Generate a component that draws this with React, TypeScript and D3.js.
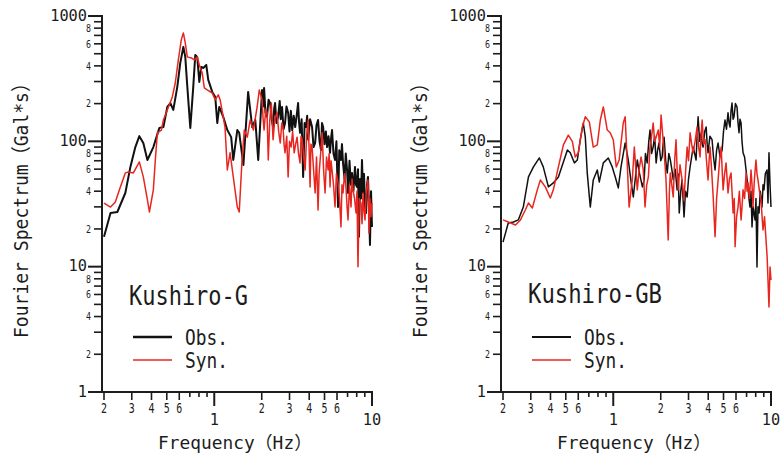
import React from 'react';
import * as d3 from 'd3';

type P = [number, number];

// Kushiro-G : observed (frequency Hz, Gal*s)
const leftObs: P[] = [
  [0.2, 17.3], [0.22, 26.8], [0.243, 27.3], [0.273, 38.7], [0.294, 62.5], [0.316, 90], [0.335, 110],
  [0.355, 97], [0.377, 71], [0.411, 90], [0.449, 128], [0.476, 130], [0.504, 188], [0.527, 202],
  [0.55, 178], [0.583, 272], [0.609, 423], [0.637, 567], [0.655, 472], [0.675, 272], [0.705, 128],
  [0.736, 272], [0.758, 489], [0.78, 472], [0.804, 298], [0.828, 392], [0.852, 385], [0.89, 407],
  [0.916, 309], [0.971, 248], [1.015, 226], [1.045, 140], [1.076, 188], [1.14, 157], [1.21, 123],
  [1.28, 108], [1.32, 71], [1.4, 123], [1.44, 117], [1.53, 64.8], [1.64, 248], [1.74, 130],
  [1.82, 148], [1.9, 71], [2.01, 257], [2.04, 190], [2.07, 267], [2.11, 170], [2.16, 157],
  [2.21, 215], [2.26, 202], [2.31, 150], [2.36, 130], [2.4, 185], [2.43, 202], [2.48, 140],
  [2.54, 157], [2.6, 210], [2.64, 150], [2.69, 188], [2.75, 125], [2.81, 140], [2.87, 190],
  [2.94, 169], [3.0, 120], [3.06, 175], [3.12, 123], [3.19, 160], [3.26, 130], [3.33, 160],
  [3.4, 202], [3.45, 140], [3.5, 117], [3.58, 150], [3.66, 52], [3.74, 140], [3.82, 130],
  [3.88, 160], [3.94, 103], [4.05, 150], [4.17, 130], [4.26, 90], [4.36, 97], [4.45, 135],
  [4.55, 148], [4.65, 100], [4.75, 85.4], [4.82, 140], [4.9, 130], [5.0, 95], [5.1, 120],
  [5.19, 90], [5.3, 110], [5.42, 81], [5.5, 105], [5.58, 123], [5.7, 80], [5.83, 71], [5.95, 100],
  [6.09, 29.9], [6.2, 85], [6.36, 71], [6.45, 95], [6.55, 67.3], [6.7, 50], [6.82, 80], [6.95, 59.1],
  [7.05, 38.7], [7.2, 70], [7.34, 45], [7.47, 56], [7.62, 40], [7.8, 62.5], [7.92, 45], [8.03, 43.3],
  [8.15, 60], [8.27, 17.3], [8.4, 50], [8.52, 35], [8.64, 71], [8.77, 38.7], [8.9, 55], [9.03, 30],
  [9.16, 26.8], [9.3, 45], [9.43, 52], [9.57, 30], [9.71, 14.9], [9.86, 40], [10, 20.7],
];

// Kushiro-G : synthetic
const leftSyn: P[] = [
  [0.2, 32.2], [0.22, 29.9], [0.236, 32.8], [0.254, 43.3], [0.273, 56], [0.286, 57], [0.307, 56],
  [0.335, 68.5], [0.355, 52], [0.377, 34.1], [0.388, 27.3], [0.411, 41], [0.423, 71], [0.436, 117],
  [0.462, 123], [0.476, 148], [0.504, 178], [0.542, 226], [0.566, 292], [0.592, 446], [0.618, 645],
  [0.637, 733], [0.655, 610], [0.675, 472], [0.715, 463], [0.747, 446], [0.78, 472], [0.804, 407],
  [0.839, 351], [0.865, 267], [0.903, 257], [0.971, 243], [1.015, 214], [1.06, 235], [1.09, 214],
  [1.14, 157], [1.17, 130], [1.21, 59.1], [1.26, 81], [1.32, 52], [1.4, 29.9], [1.44, 27.3],
  [1.5, 71], [1.55, 123], [1.62, 108], [1.69, 148], [1.77, 123], [1.87, 188], [1.93, 257],
  [2.01, 214], [2.04, 150], [2.07, 123], [2.12, 180], [2.16, 169], [2.2, 71], [2.25, 150],
  [2.3, 202], [2.36, 103], [2.42, 150], [2.5, 169], [2.56, 120], [2.62, 97], [2.68, 140],
  [2.73, 130], [2.77, 95], [2.81, 81], [2.88, 110], [2.94, 52], [3.0, 100], [3.07, 90],
  [3.14, 120], [3.21, 81], [3.28, 95], [3.35, 108], [3.42, 80], [3.5, 67.3], [3.55, 110],
  [3.61, 103], [3.69, 75], [3.77, 59.1], [3.85, 110], [3.94, 148], [4.0, 80], [4.05, 43.3],
  [4.1, 95], [4.17, 90], [4.26, 60], [4.36, 38.7], [4.45, 75], [4.55, 28.3], [4.62, 55],
  [4.69, 71], [4.76, 90], [4.83, 117], [4.93, 60], [5.04, 38.7], [5.15, 75], [5.27, 59.1],
  [5.35, 80], [5.42, 43.3], [5.5, 70], [5.58, 59.1], [5.7, 45], [5.83, 29.9], [5.95, 55],
  [6.09, 46.6], [6.22, 35], [6.36, 20.7], [6.45, 45], [6.55, 38.7], [6.7, 55], [6.84, 43.3],
  [6.95, 30], [7.05, 23.6], [7.2, 45], [7.36, 29.9], [7.47, 50], [7.58, 41], [7.75, 35],
  [7.92, 26.8], [8.03, 40], [8.15, 10], [8.3, 35], [8.51, 32.2], [8.65, 22], [8.77, 38.7],
  [8.9, 28], [9.03, 23.6], [9.2, 40], [9.43, 49.2], [9.57, 18.6], [9.7, 35], [9.85, 25], [10, 32.2],
];

// Kushiro-GB : observed
const rightObs: P[] = [
  [0.2, 15.7], [0.216, 22.3], [0.233, 22.7], [0.25, 23.6], [0.269, 29.9], [0.29, 52], [0.312, 62.5],
  [0.34, 73.7], [0.36, 62.5], [0.388, 43.3], [0.417, 46.6], [0.449, 52], [0.483, 68.5], [0.512, 85.4],
  [0.534, 81], [0.567, 67.3], [0.592, 71], [0.618, 103], [0.646, 140], [0.665, 108], [0.684, 56],
  [0.715, 29.9], [0.747, 49.2], [0.792, 59.1], [0.815, 47.4], [0.865, 67.3], [0.93, 73.7],
  [0.985, 62.5], [1.03, 52], [1.076, 42.5], [1.12, 62.5], [1.19, 97], [1.245, 71], [1.3, 46.6],
  [1.34, 36], [1.42, 71], [1.47, 55], [1.53, 43.3], [1.57, 49.2], [1.6, 80], [1.64, 67.3],
  [1.68, 100], [1.71, 123], [1.75, 80], [1.79, 90], [1.83, 110], [1.87, 67.3], [1.91, 85],
  [1.95, 97], [2.0, 70], [2.04, 75], [2.07, 95], [2.1, 108], [2.15, 70], [2.2, 56], [2.25, 80],
  [2.3, 71], [2.35, 60], [2.4, 49.2], [2.47, 60], [2.54, 41], [2.58, 55], [2.62, 26.8], [2.68, 40],
  [2.73, 49.2], [2.77, 35], [2.81, 24.9], [2.87, 40], [2.94, 36], [3.0, 50], [3.07, 62.5],
  [3.14, 75], [3.21, 90], [3.28, 80], [3.35, 71], [3.4, 110], [3.45, 157], [3.53, 100],
  [3.61, 117], [3.66, 95], [3.71, 90], [3.8, 120], [3.88, 130], [3.94, 95], [3.99, 81], [4.1, 110],
  [4.23, 103], [4.32, 75], [4.42, 59.1], [4.52, 85], [4.62, 97], [4.75, 75], [4.9, 85.4], [5.0, 120],
  [5.11, 148], [5.22, 125], [5.34, 169], [5.42, 140], [5.5, 130], [5.58, 175], [5.66, 202],
  [5.75, 150], [5.83, 157], [5.95, 200], [6.09, 188], [6.18, 140], [6.27, 117], [6.36, 150],
  [6.46, 140], [6.55, 100], [6.65, 81], [6.8, 75], [6.95, 59.1], [7.05, 50], [7.15, 43.3],
  [7.25, 35], [7.36, 29.9], [7.47, 40], [7.58, 20.7], [7.7, 30], [7.92, 23.6], [8.03, 35],
  [8.15, 9.95], [8.27, 30], [8.4, 26.8], [8.55, 40], [8.77, 29.9], [8.9, 45], [9.03, 41], [9.2, 55],
  [9.43, 59.1], [9.57, 32.2], [9.71, 81], [9.86, 45], [10, 29.9],
];

// Kushiro-GB : synthetic
const rightSyn: P[] = [
  [0.2, 23.6], [0.216, 22.7], [0.24, 21.5], [0.258, 23.6], [0.277, 28.3], [0.29, 32.2], [0.307, 29.4],
  [0.33, 41], [0.345, 49.2], [0.371, 43.3], [0.399, 35.3], [0.417, 41], [0.449, 62.5], [0.483, 93.6],
  [0.519, 112], [0.55, 100], [0.574, 75], [0.6, 81], [0.637, 130], [0.665, 157], [0.705, 143],
  [0.747, 90], [0.792, 93.6], [0.828, 148], [0.865, 188], [0.916, 123], [0.957, 117], [1.0, 103],
  [1.045, 62.5], [1.09, 71], [1.157, 140], [1.19, 157], [1.226, 67.3], [1.26, 29.9], [1.32, 49.2],
  [1.36, 90], [1.42, 41], [1.46, 60], [1.5, 75], [1.55, 59.1], [1.59, 29.9], [1.63, 45], [1.67, 52],
  [1.71, 90], [1.75, 110], [1.79, 140], [1.83, 100], [1.87, 108], [1.93, 123], [1.97, 90],
  [2.01, 162], [2.07, 103], [2.12, 70], [2.16, 49.2], [2.23, 16.3], [2.27, 40], [2.3, 56],
  [2.35, 45], [2.4, 36], [2.45, 70], [2.5, 103], [2.54, 60], [2.58, 41], [2.65, 65], [2.73, 49.2],
  [2.81, 34.1], [2.88, 60], [2.94, 90], [3.0, 70], [3.07, 117], [3.14, 95], [3.21, 81], [3.3, 100],
  [3.4, 130], [3.48, 90], [3.55, 75], [3.6, 110], [3.66, 148], [3.74, 95], [3.82, 103], [3.9, 70],
  [3.99, 49.2], [4.05, 70], [4.11, 90], [4.2, 60], [4.3, 36], [4.42, 17.3], [4.52, 35], [4.62, 49.2],
  [4.72, 70], [4.83, 90], [4.9, 60], [4.97, 41], [5.08, 55], [5.19, 67.3], [5.27, 50], [5.34, 38.7],
  [5.45, 50], [5.58, 56], [5.66, 40], [5.75, 26.8], [5.85, 35], [5.92, 14.4], [6.05, 25],
  [6.18, 29.9], [6.3, 40], [6.46, 23.6], [6.55, 30], [6.65, 41], [6.8, 35], [6.95, 56], [7.05, 40],
  [7.15, 46.6], [7.3, 35], [7.47, 59.1], [7.58, 45], [7.69, 29.9], [7.85, 50], [8.03, 71],
  [8.15, 55], [8.27, 49.2], [8.45, 40], [8.64, 34.1], [8.78, 25], [8.9, 19.6], [9.1, 25],
  [9.3, 16.3], [9.45, 12], [9.57, 7.83], [9.71, 4.77], [9.86, 9.95], [10, 7.83],
];

const yDecades = [1, 10, 100, 1000];
const yMinorMultipliers = [2, 3, 4, 5, 6, 7, 8, 9];
const yMinorLabeled = [2, 4, 6, 8];
const xLabeledMinor = [0.2, 0.3, 0.4, 0.5, 0.6, 2, 3, 4, 5, 6];
const xPlainMinor = [0.7, 0.8, 0.9, 7, 8, 9];
const xMajor = [1, 10];

const FONT = "'DejaVu Sans Mono', 'Noto Sans CJK JP', monospace";
const INK = '#1c1c1c';
const RED = '#e8261f';

interface PanelProps {
  x0: number;
  obs: P[];
  syn: P[];
  name: string;
  nameLen: number;
  nameBase: number;
  obsWidth: number;
}

function Panel({ x0, obs, syn, name, nameLen, nameBase, obsWidth }: PanelProps) {
  const x = d3.scaleLog().domain([0.2, 10]).range([x0, x0 + 268]);
  const y = d3.scaleLog().domain([1, 1000]).range([392, 16]);
  const ax = x0 - 2;
  const line = d3
    .line<P>()
    .x((d) => x(d[0]))
    .y((d) => y(d[1]));

  const minors: { v: number; m: number }[] = [];
  [1, 10, 100].forEach((d) => yMinorMultipliers.forEach((m) => minors.push({ v: d * m, m })));

  const legX = x0 + 29;
  return (
    <g>
      {/* curves */}
      <path d={line(obs) || ''} fill="none" stroke="#111" strokeWidth={obsWidth} strokeLinejoin="round" />
      <path d={line(syn) || ''} fill="none" stroke={RED} strokeWidth={1.5} strokeLinejoin="round" />

      {/* axes */}
      <line x1={ax} x2={ax} y1={15} y2={393} stroke={INK} strokeWidth={2} />
      <line x1={ax - 1} x2={x(10) + 1} y1={392} y2={392} stroke={INK} strokeWidth={2} />

      {yDecades.map((d) => (
        <g key={'yd' + d}>
          <line x1={ax - 14} x2={ax} y1={y(d)} y2={y(d)} stroke={INK} strokeWidth={2} />
          <text
            x={ax - 15}
            y={y(d)}
            dy="0.32em"
            textAnchor="end"
            fontSize={15}
            fontFamily={FONT}
            fill={INK}
            textLength={String(d).length * 9.2}
            lengthAdjust="spacingAndGlyphs"
          >
            {d}
          </text>
        </g>
      ))}
      {minors.map(({ v, m }) => (
        <g key={'ym' + v}>
          <line x1={ax - 8} x2={ax} y1={y(v)} y2={y(v)} stroke={INK} strokeWidth={1.6} />
          {yMinorLabeled.includes(m) && (
            <text
              x={ax - 11}
              y={y(v)}
              dy="0.38em"
              textAnchor="end"
              fontSize={10}
              fontFamily={FONT}
              fill={INK}
              textLength={5}
              lengthAdjust="spacingAndGlyphs"
            >
              {m}
            </text>
          )}
        </g>
      ))}

      {xLabeledMinor.map((v) => (
        <g key={'xl' + v}>
          <line x1={x(v)} x2={x(v)} y1={392} y2={400} stroke={INK} strokeWidth={1.6} />
          <text
            x={x(v)}
            y={408}
            dy="0.36em"
            textAnchor="middle"
            fontSize={14}
            fontFamily={FONT}
            fill={INK}
            textLength={6}
            lengthAdjust="spacingAndGlyphs"
          >
            {Math.round(v >= 1 ? v : v * 10)}
          </text>
        </g>
      ))}
      {xPlainMinor.map((v) => (
        <line key={'xp' + v} x1={x(v)} x2={x(v)} y1={392} y2={397} stroke={INK} strokeWidth={1.6} />
      ))}
      {xMajor.map((v) => (
        <g key={'xm' + v}>
          <line x1={x(v)} x2={x(v)} y1={392} y2={406} stroke={INK} strokeWidth={2} />
          <text
            x={x(v)}
            y={420}
            dy="0.34em"
            textAnchor="middle"
            fontSize={16}
            fontFamily={FONT}
            fill={INK}
            textLength={String(v).length * 9.2}
            lengthAdjust="spacingAndGlyphs"
          >
            {v}
          </text>
        </g>
      ))}

      {/* axis titles */}
      <text
        x={x0 + 131}
        y={449}
        textAnchor="middle"
        fontSize={18}
        fontFamily={FONT}
        fill={INK}
        textLength={154}
        lengthAdjust="spacingAndGlyphs"
      >
        Frequency（Hz）
      </text>
      <text
        transform={`translate(${x0 - 76},206) rotate(-90)`}
        textAnchor="middle"
        fontSize={20}
        fontFamily={FONT}
        fill={INK}
        textLength={264}
        lengthAdjust="spacingAndGlyphs"
      >
        Fourier Spectrum（Gal*s）
      </text>

      {/* legend */}
      <text
        x={x0 + 25}
        y={nameBase}
        fontSize={26}
        fontFamily={FONT}
        fill={INK}
        textLength={nameLen}
        lengthAdjust="spacingAndGlyphs"
      >
        {name}
      </text>
      <line x1={legX} x2={legX + 39} y1={337} y2={337} stroke="#111" strokeWidth={obsWidth + 0.5} />
      <line x1={legX} x2={legX + 39} y1={360} y2={360} stroke={RED} strokeWidth={1.5} />
      <text x={legX + 52} y={345} fontSize={22} fontFamily={FONT} fill={INK} textLength={43} lengthAdjust="spacingAndGlyphs">
        Obs.
      </text>
      <text x={legX + 52} y={368} fontSize={22} fontFamily={FONT} fill={INK} textLength={43} lengthAdjust="spacingAndGlyphs">
        Syn.
      </text>
    </g>
  );
}

export default function App() {
  return (
    <svg width={781} height={457} style={{ position: 'absolute', left: 0, top: 0, background: '#fff' }}>
      <rect x={0} y={0} width={781} height={457} fill="#fff" />
      <Panel x0={104} obs={leftObs} syn={leftSyn} name="Kushiro-G" nameLen={119} nameBase={305} obsWidth={2} />
      <Panel x0={503} obs={rightObs} syn={rightSyn} name="Kushiro-GB" nameLen={134} nameBase={303} obsWidth={1.5} />
    </svg>
  );
}
